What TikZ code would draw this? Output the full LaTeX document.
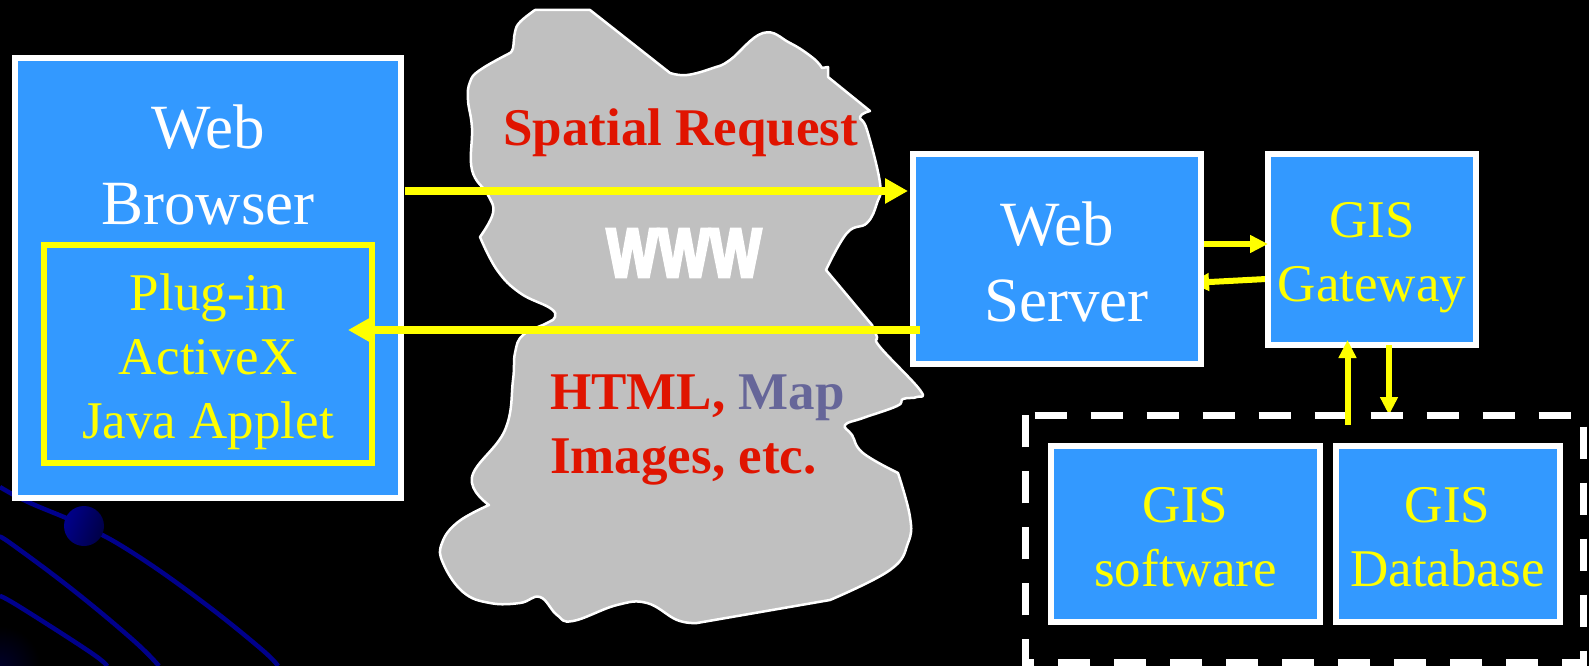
\documentclass[tikz,border=0pt]{standalone}
\usepackage{fontspec}
\setmainfont{Liberation Serif}
\newfontfamily\heavyfont[FakeStretch=0.78,FakeBold=4]{Liberation Sans Bold}
\usetikzlibrary{calc,arrows.meta}
\definecolor{boxblue}{RGB}{51,153,255}
\definecolor{decoblue}{RGB}{0,0,139}
\definecolor{reqred}{RGB}{224,20,0}
\definecolor{mapblue}{RGB}{102,102,153}
\definecolor{cloudgray}{RGB}{192,192,192}
\definecolor{pureyellow}{RGB}{255,255,0}
\definecolor{purewhite}{RGB}{255,255,255}
\definecolor{pureblack}{RGB}{0,0,0}
\newcommand\firstline[1]{\rule{0pt}{#1pt}}
\newcommand\lastline[1]{\rule[-#1pt]{0pt}{#1pt}}
\pgfdeclarelayer{back}
\pgfdeclarelayer{mid}
\pgfsetlayers{back,mid,main}
\tikzset{
  x=1pt,y=-1pt,
  bluebox/.style={draw=purewhite,line width=6pt,fill=boxblue,inner sep=0pt,outer sep=0pt,align=center},
  big/.style={font=\fontsize{63}{76}\selectfont,text=purewhite},
  small/.style={font=\fontsize{53}{64}\selectfont,text=pureyellow},
  redtext/.style={font=\fontsize{53}{64}\selectfont\bfseries,text=reqred,inner sep=0pt,anchor=base west,align=left},
  flow/.style={draw=pureyellow,fill=pureyellow,line width=8pt,-{Triangle[length=23pt,width=24pt]}},
  minorflow/.style={draw=pureyellow,fill=pureyellow,line width=6pt,-{Triangle[length=18pt,width=17pt]}},
  deco/.style={draw=decoblue,line width=4.5pt},
  curve/.style={smooth,tension=.7},
}
\begin{document}
\begin{tikzpicture}
\useasboundingbox (0,0) rectangle (1589,666);
\begin{pgfonlayer}{back}
\fill[pureblack] (0,0) rectangle (1589,666);
% decoration
\begin{scope}
\clip (0,610) rectangle (50,666);
\shade[inner color={rgb,255:red,0;green,0;blue,40},outer color=pureblack] (-40,626) rectangle (40,706);
\end{scope}
\draw[deco] plot[curve] coordinates {(0,487) (28,502) (84,526) (133,553) (200,600) (260,648) (278,666)};
\draw[deco] plot[curve] coordinates {(0,537) (13,545) (73,590) (133,640) (159,666)};
\draw[deco] plot[curve] coordinates {(0,596) (20,607) (90,652) (107,666)};
\shade[left color=decoblue,right color={rgb,255:red,0;green,0;blue,70},shading angle=70] (84,526) circle (20);
% cloud
\draw[draw=purewhite,line width=2.5pt,fill=cloudgray,line join=round]
 plot[curve] coordinates {(535,10) (520,22) (515,32) (513,48) (510,53)}
 -- plot[curve] coordinates {(510,53) (480,70) (470,82) (468,100) (472,128) (472,170) (488,195) (493,213) (480,237)}
 -- plot[curve] coordinates {(480,237) (497,270) (520,293) (550,308) (555,317) (547,323) (523,335) (515,353) (513,380) (505,430) (472,477) (489,505)}
 -- plot[curve] coordinates {(489,505) (458,522) (442,543) (443,563) (463,592) (490,603) (520,603) (540,597) (557,615) (573,621) (617,605) (647,603) (677,620) (697,623)}
 -- (830,600)
 -- plot[curve] coordinates {(830,600) (890,570) (908,543) (910,517) (898,473)}
 -- plot[curve] coordinates {(898,473) (863,453) (852,435) (845,425) (863,418) (897,406) (903,399) (917,397) (920,390) (880,347) (877,337) (872,325)}
 -- (826,270)
 -- plot[curve] coordinates {(826,270) (847,233) (867,223) (877,203) (880,183) (867,130) (860,117) (870,111)}
 -- (828,77) -- (828,67) -- (822,68)
 -- plot[curve] coordinates {(822,68) (813,58) (790,43) (763,33) (730,60) (713,68) (687,75) (670,73)}
 -- (590,10) -- cycle;
\end{pgfonlayer}
\node[redtext] (req) at (503,145) {Spatial Request};
\node[font=\heavyfont\fontsize{70}{70}\selectfont,text=purewhite,inner sep=0pt] (www) at (684,253) {WWW};
\node[redtext] (html) at (550,473) {HTML, \textcolor{mapblue}{Map}\\Images, etc.};
% boxes
\node[bluebox,big,minimum width=386pt,minimum height=440pt,anchor=north west] (browser) at (15,58) {\firstline{50}Web\\Browser\lastline{234}};
\node[draw=pureyellow,line width=6pt,outer sep=0pt,inner sep=0pt,minimum width=328pt,minimum height=218pt,anchor=north west,small,align=center] (plugin) at (44,245) {\firstline{55}Plug-in\\ActiveX\\Java Applet\lastline{15}};
\node[bluebox,big,minimum width=288pt,minimum height=210pt,anchor=north west] (server) at (913,154) {\firstline{63.7}Web\\\hspace*{19.4pt}Server\lastline{15}};
\node[bluebox,small,minimum width=208pt,minimum height=191pt,anchor=north west] (gateway) at (1268,154) {\firstline{54}GIS\\Gateway\lastline{15}};
\node[bluebox,small,minimum width=269pt,minimum height=176pt,anchor=north west] (software) at (1051,446) {\firstline{56.4}GIS\\software\lastline{15}};
\node[bluebox,small,minimum width=224pt,minimum height=176pt,anchor=north west] (database) at (1335.5,446) {\firstline{56.4}GIS\\Database\lastline{15}};
% this arrow runs behind the server and gateway boxes
\begin{pgfonlayer}{mid}
\draw[minorflow] ([shift={(-2,29.5)}]gateway.west) -- ([shift={(-10,24)}]server.east);
\end{pgfonlayer}
% this arrow's tip runs under the dashed group
\draw[minorflow] ([shift={(17,0)}]gateway.south) -- ([shift={(-58.5,-31)}]database.north);
% dashed group
\coordinate (g1) at (1034.6,415);
\coordinate (g2) at (1583,415);
\coordinate (g3) at (1583,662);
\coordinate (g4) at (1025,662);
\coordinate (g5) at (1025,415);
\draw[purewhite,line width=7pt,dash pattern=on 32pt off 24pt] (g1) -- (g2) -- (g3) -- (g4) -- (g5);
% connectors
\draw[flow] ([shift={(4,-87)}]browser.east) -- ([shift={(-5,-68)}]server.west);
\draw[flow] ([shift={(7,71)}]server.west) -- ([shift={(-24,-24)}]plugin.east);
\draw[minorflow] ([shift={(3,-15)}]server.east) -- ([shift={(0,-5.5)}]gateway.west);
\draw[minorflow] ([shift={(27.5,-21)}]software.north east) -- ([shift={(-24.5,-5)}]gateway.south);
\end{tikzpicture}
\end{document}
